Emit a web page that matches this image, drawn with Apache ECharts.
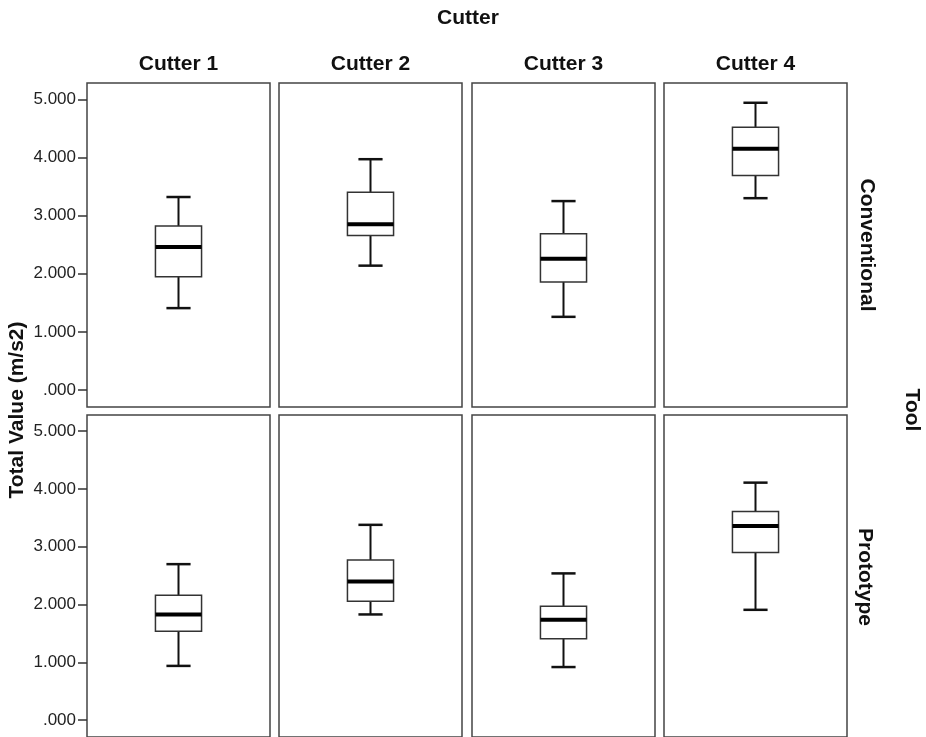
<!DOCTYPE html>
<html>
<head>
<meta charset="utf-8">
<script src="https://cdn.jsdelivr.net/npm/echarts@6/dist/echarts.min.js"></script>
<style>
  html, body { margin: 0; padding: 0; background: #fff; }
  #chart { width: 926px; height: 737px; }
</style>
</head>
<body>
<div id="chart"></div>
<script>
// facet categories
const cutters = ['Cutter 1', 'Cutter 2', 'Cutter 3', 'Cutter 4'];
const tools = ['Conventional', 'Prototype'];

// box stats per cutter: [low whisker, Q1, median, Q3, high whisker]
const conventional = [
  [1.41, 1.95, 2.46, 2.82, 3.32],
  [2.14, 2.66, 2.85, 3.40, 3.97],
  [1.26, 1.86, 2.26, 2.69, 3.25],
  [3.30, 3.69, 4.15, 4.52, 4.94]
];
const prototype = [
  [0.94, 1.54, 1.83, 2.16, 2.70],
  [1.83, 2.06, 2.40, 2.77, 3.38],
  [0.92, 1.41, 1.74, 1.97, 2.54],
  [1.91, 2.90, 3.36, 3.61, 4.11]
];

// y axis ticks
const tickValues = [0, 1, 2, 3, 4, 5];
const tickLabels = ['.000', '1.000', '2.000', '3.000', '4.000', '5.000'];

const fontFamily = '"Liberation Sans", Arial, sans-serif';
const chart = echarts.init(document.getElementById('chart'));

// panel geometry
const colLeft = [87, 279, 472, 664];
const rowTop = [83, 415];
const panelW = 183;
const rowH = [324, 325];

function renderBox(params, api) {
  const xi = api.value(0);
  const low = api.coord([xi, api.value(1)]);
  const q1 = api.coord([xi, api.value(2)]);
  const med = api.coord([xi, api.value(3)]);
  const q3 = api.coord([xi, api.value(4)]);
  const high = api.coord([xi, api.value(5)]);
  const band = api.size([1, 0])[0];
  const cx = low[0];
  const hw = band * 0.126;
  const cw = band * 0.066;
  const whisker = { stroke: '#111', lineWidth: 2 };
  return {
    type: 'group',
    children: [
      { type: 'line', shape: { x1: cx, y1: low[1], x2: cx, y2: q1[1] }, style: whisker },
      { type: 'line', shape: { x1: cx, y1: q3[1], x2: cx, y2: high[1] }, style: whisker },
      { type: 'line', shape: { x1: cx - cw, y1: low[1], x2: cx + cw, y2: low[1] }, style: { stroke: '#111', lineWidth: 2.5 } },
      { type: 'line', shape: { x1: cx - cw, y1: high[1], x2: cx + cw, y2: high[1] }, style: { stroke: '#111', lineWidth: 2.5 } },
      { type: 'rect', shape: { x: cx - hw, y: q3[1], width: hw * 2, height: q1[1] - q3[1] },
        style: { fill: '#fff', stroke: '#333', lineWidth: 1.5 } },
      { type: 'line', shape: { x1: cx - hw, y1: med[1], x2: cx + hw, y2: med[1] }, style: { stroke: '#000', lineWidth: 4 } }
    ]
  };
}

const grids = [], xAxes = [], yAxes = [], series = [];
[conventional, prototype].forEach(function (stats, r) {
  cutters.forEach(function (c, ci) {
    const idx = grids.length;
    grids.push({
      left: colLeft[ci], top: rowTop[r], width: panelW, height: rowH[r],
      show: true, borderColor: '#444', borderWidth: 1.5, backgroundColor: 'transparent'
    });
    xAxes.push({ type: 'category', gridIndex: idx, data: [c], show: false });
    yAxes.push({
      type: 'value', gridIndex: idx, min: -0.29, max: 5.28,
      splitLine: { show: false },
      axisLine: { show: false },
      axisTick: {
        show: ci === 0, customValues: tickValues, length: 9,
        lineStyle: { color: '#333', width: 1.5 }
      },
      axisLabel: {
        show: ci === 0, customValues: tickValues, margin: 11,
        color: '#222', fontSize: 17, fontFamily: fontFamily,
        formatter: function (v) { return tickLabels[tickValues.indexOf(Math.round(v))]; }
      }
    });
    series.push({
      type: 'custom', xAxisIndex: idx, yAxisIndex: idx,
      renderItem: renderBox,
      data: [[0].concat(stats[ci])],
      silent: true
    });
  });
});

function label(text, x, y, rot, size) {
  return {
    type: 'text', x: x, y: y, rotation: rot || 0,
    style: {
      text: text, fill: '#111', font: 'bold ' + (size || 21) + 'px ' + fontFamily,
      textAlign: 'center', textVerticalAlign: 'middle', align: 'center', verticalAlign: 'middle'
    }
  };
}

const graphics = [label('Cutter', 468, 18)];
cutters.forEach(function (c, ci) {
  graphics.push(label(c, colLeft[ci] + panelW / 2, 64));
});
graphics.push(label(tools[0], 867, 245, -Math.PI / 2));
graphics.push(label(tools[1], 865, 577, -Math.PI / 2));
graphics.push(label('Tool', 912, 410, -Math.PI / 2));
graphics.push(label('Total Value (m/s2)', 17, 410, Math.PI / 2));

chart.setOption({
  backgroundColor: '#fff',
  animation: false,
  grid: grids,
  xAxis: xAxes,
  yAxis: yAxes,
  series: series,
  graphic: graphics
});
</script>
</body>
</html>
